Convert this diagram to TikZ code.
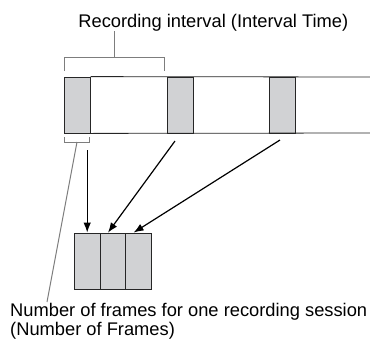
\documentclass[tikz,border=0pt]{standalone}
\usepackage{fontspec}
\setmainfont{Liberation Sans}
\usetikzlibrary{arrows.meta}
\definecolor{framegray}{RGB}{209,210,212}
\definecolor{brkgray}{RGB}{125,125,125}
\begin{document}
\begin{tikzpicture}[x=1pt,y=-1pt,
  fr/.style={rectangle,draw=black!85,fill=framegray,line width=0.8pt,minimum width=25.8pt,minimum height=56pt,inner sep=0pt},
  strip/.style={draw=black!85,line width=0.8pt},
  brk/.style={draw=brkgray,line width=1pt},
  lead/.style={draw=brkgray,line width=1pt},
  a/.style={-{Latex[length=10pt,width=7.5pt]},draw=black,line width=1.2pt},
  lbl/.style={font=\fontsize{18.3}{19.5}\selectfont,inner sep=0pt}]

\useasboundingbox (0,0) rectangle (370,346);

% recording strip
\node[fr] (c1) at (77.4,105) {};
\node[fr] (c2) at (180,105) {};
\node[fr] (c3) at (282,105) {};
\coordinate (stripT) at (371,77);
\coordinate (stripB) at (371,133);
\draw[strip] (c1.north east) -- (stripT);
\draw[strip] (c1.south east) -- (stripB);

% interval bracket
\node[lbl,anchor=base] (title) at (213.3,27) {Recording interval (Interval Time)};
\coordinate (iv) at (114,57);
\draw[brk] (64.5,71) |- (164,57) -- (164,71);
\draw[brk] (iv) -- (iv |- title.south);

% frames bracket and leader
\coordinate (fb) at (77,142);
\draw[brk] (64.5,137) |- (89.5,142) -- (89.5,137);
\node[lbl,anchor=north west,align=left] (note) at (10,303) {Number of frames for one recording session\\(Number of Frames)};
\coordinate (leadEnd) at (47,302);
\draw[lead] (fb) -- (leadEnd);

% collected frames
\node[fr] (f1) at (87.2,261) {};
\node[fr] (f2) at (113,261) {};
\node[fr] (f3) at (138.6,261) {};

% arrows
\coordinate (s1) at (87.2,150);
\coordinate (s2) at (175,141);
\coordinate (s3) at (280,140);
\draw[a] (s1) -- (f1.north);
\draw[a] (s2) -- ([xshift=-5pt]f2.north);
\draw[a] (s3) -- ([xshift=-5pt]f3.north);
\end{tikzpicture}
\end{document}
